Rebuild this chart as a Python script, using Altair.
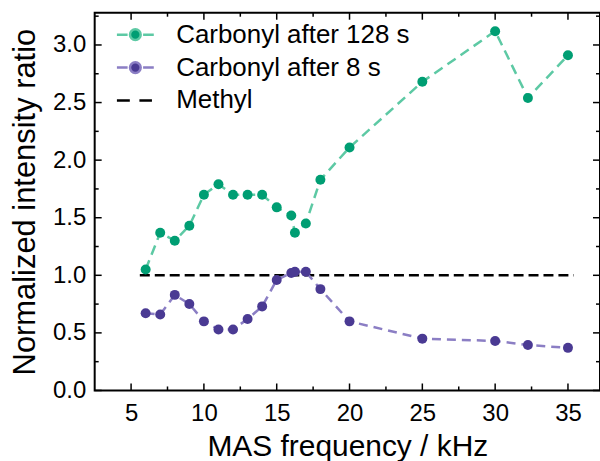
import altair as alt
import pandas as pd

# ---- data ----
x_128 = [6, 7, 8, 9, 10, 11, 12, 13, 14, 15, 16, 16.25, 17, 18, 20, 25, 30, 32.25, 35]
y_128 = [1.05, 1.37, 1.30, 1.43, 1.70, 1.79, 1.70, 1.70, 1.70, 1.59, 1.52, 1.37, 1.45, 1.83, 2.11, 2.68, 3.12, 2.54, 2.91]
x_8 = [6, 7, 8, 9, 10, 11, 12, 13, 14, 15, 16, 16.25, 17, 18, 20, 25, 30, 32.25, 35]
y_8 = [0.67, 0.66, 0.83, 0.75, 0.60, 0.53, 0.53, 0.62, 0.73, 0.96, 1.02, 1.03, 1.03, 0.88, 0.60, 0.45, 0.43, 0.395, 0.37]
methyl_x = [5.6, 35.4]
methyl_y = [1.0, 1.0]

series_names = ["Carbonyl after 128 s", "Carbonyl after 8 s", "Methyl"]
point_colors = ["#009E73", "#4A3A93", "#000000"]
line_colors = ["#5DC9A4", "#8B7EC4", "#000000"]
legend_paths = [
    "M-1,0H-0.42M0.42,0H1M-0.29,0A0.29,0.29 0 1,1 0.29,0A0.29,0.29 0 1,1 -0.29,0Z",
    "M-1,0H-0.42M0.42,0H1M-0.29,0A0.29,0.29 0 1,1 0.29,0A0.29,0.29 0 1,1 -0.29,0Z",
    "M-1,0H-0.3M0.22,0H0.9",
]

x_major = [5, 10, 15, 20, 25, 30, 35]
x_minor = [7.5, 12.5, 17.5, 22.5, 27.5, 32.5]
y_major = [0.0, 0.5, 1.0, 1.5, 2.0, 2.5, 3.0]
y_minor = [0.25, 0.75, 1.25, 1.75, 2.25, 2.75, 3.25]

W, H = 507, 379
FONT = "Liberation Sans"

xs = alt.Scale(domain=[2.5, 37.2], nice=False, zero=False)
ys = alt.Scale(domain=[0, 3.28], nice=False, zero=False)

df128 = pd.DataFrame({"x": x_128, "y": y_128})
df8 = pd.DataFrame({"x": x_8, "y": y_8})
dfm = pd.DataFrame({"x": methyl_x, "y": methyl_y})

xaxis = alt.Axis(
    title="MAS frequency / kHz", values=x_major, format="d",
    labelFontSize=24, labelFont=FONT, labelColor="black", labelPadding=11,
    titleFontSize=30, titleFont=FONT, titleColor="black", titleFontWeight="normal",
    titleY=65, titleBaseline="alphabetic",
    ticks=False, tickSize=0, domain=False, grid=False)
yaxis = alt.Axis(
    title="Normalized intensity ratio", values=y_major, format=".1f",
    labelFontSize=24, labelFont=FONT, labelColor="black", labelPadding=9,
    titleFontSize=31, titleFont=FONT, titleColor="black", titleFontWeight="normal",
    titleX=-60, titleBaseline="alphabetic",
    ticks=False, tickSize=0, domain=False, grid=False)

xenc = alt.X("x:Q", scale=xs, axis=xaxis, title="MAS frequency / kHz")
yenc = alt.Y("y:Q", scale=ys, axis=yaxis, title="Normalized intensity ratio")

methyl = alt.Chart(dfm).mark_line(color="black", strokeWidth=2.5, strokeDash=[10, 5]).encode(x=xenc, y=yenc)
l128 = alt.Chart(df128).mark_line(color=line_colors[0], strokeWidth=2.5, strokeDash=[10, 6]).encode(x=xenc, y=yenc)
l8 = alt.Chart(df8).mark_line(color=line_colors[1], strokeWidth=2.5, strokeDash=[9, 6]).encode(x=xenc, y=yenc)
p128 = alt.Chart(df128).mark_point(filled=True, size=100, color=point_colors[0], opacity=1).encode(x=xenc, y=yenc)
p8 = alt.Chart(df8).mark_point(filled=True, size=100, color=point_colors[1], opacity=1).encode(x=xenc, y=yenc)

# ticks (inward, all four sides)
dxM = pd.DataFrame({"x": x_major})
dxm = pd.DataFrame({"x": x_minor})
dyM = pd.DataFrame({"y": y_major})
dym = pd.DataFrame({"y": y_minor})
tick_style = dict(color="black", strokeWidth=1.5)
ticks = [
    alt.Chart(dxM).mark_rule(**tick_style).encode(x=xenc, y=alt.value(H), y2=alt.value(H - 7)),
    alt.Chart(dxm).mark_rule(**tick_style).encode(x=xenc, y=alt.value(H), y2=alt.value(H - 4)),
    alt.Chart(dxM).mark_rule(**tick_style).encode(x=xenc, y=alt.value(0), y2=alt.value(7)),
    alt.Chart(dxm).mark_rule(**tick_style).encode(x=xenc, y=alt.value(0), y2=alt.value(4)),
    alt.Chart(dyM).mark_rule(**tick_style).encode(y=yenc, x=alt.value(0), x2=alt.value(7)),
    alt.Chart(dym).mark_rule(**tick_style).encode(y=yenc, x=alt.value(0), x2=alt.value(4)),
    alt.Chart(dyM).mark_rule(**tick_style).encode(y=yenc, x=alt.value(W), x2=alt.value(W - 7)),
    alt.Chart(dym).mark_rule(**tick_style).encode(y=yenc, x=alt.value(W), x2=alt.value(W - 4)),
]

# legend carrier (points drawn off-canvas; only its legend is visible)
leg = alt.Legend(orient="none", legendX=20.8, legendY=2, title=None,
                 symbolSize=1369, symbolStrokeWidth=2.5, symbolOpacity=1,
                 labelFont=FONT, labelFontSize=26, labelColor="black",
                 labelOffset=21, rowPadding=0, padding=0, labelLimit=400)
dleg = pd.DataFrame({"series": series_names})
legend_layer = alt.Chart(dleg).mark_point(filled=True, opacity=1).encode(
    x=alt.value(-500), y=alt.value(-500),
    fill=alt.Fill("series:N", scale=alt.Scale(domain=series_names, range=point_colors), legend=leg),
    stroke=alt.Stroke("series:N", scale=alt.Scale(domain=series_names, range=line_colors), legend=leg),
    shape=alt.Shape("series:N", scale=alt.Scale(domain=series_names, range=legend_paths), legend=leg),
)

chart = alt.layer(methyl, l128, l8, p128, p8, *ticks, legend_layer).properties(
    width=W, height=H,
    autosize=alt.AutoSizeParams(type="none"),
    padding={"left": 95, "top": 12, "right": 0, "bottom": 70},
    background="white",
).configure_view(stroke="black", strokeWidth=2)

chart.save("out.html", embed_options={"renderer": "svg", "actions": False})
